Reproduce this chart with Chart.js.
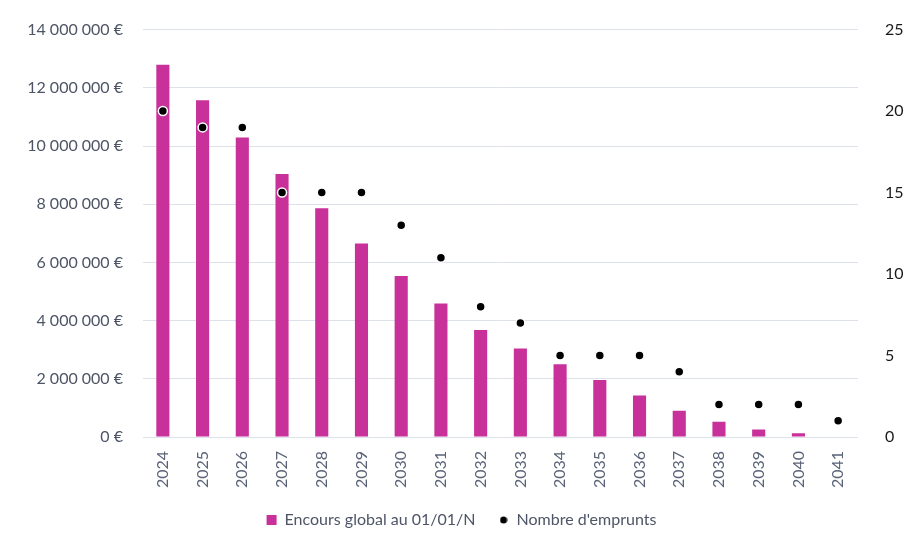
<!DOCTYPE html>
<html>
<head>
<meta charset="utf-8">
<script src="https://cdn.jsdelivr.net/npm/chart.js@4"></script>
<style>
	html, body { margin: 0; padding: 0; background: #fff; }
	#wrap { width: 923px; height: 533px; }
</style>
</head>
<body>
<div id="wrap"><canvas id="chart" width="923" height="533"></canvas></div>
<script>
// données
var annees = ['2024', '2025', '2026', '2027', '2028', '2029', '2030', '2031', '2032',
	'2033', '2034', '2035', '2036', '2037', '2038', '2039', '2040', '2041']
var encours = [12790000, 11570000, 10290000, 9040000, 7860000, 6650000, 5530000, 4590000, 3680000,
	3040000, 2500000, 1960000, 1430000, 900000, 520000, 260000, 130000, 0]
var nb_emprunts = [20, 19, 19, 15, 15, 15, 13, 11, 8, 7, 5, 5, 5, 4, 2, 2, 2, 1]

var label_encours = 'Encours global au 01/01/N'
var label_emprunts = "Nombre d'emprunts"

var font = 'Lato'
var bar_color = '#c8309a'
var grid_color = '#dde1ea'

function euros(v) {
	return String(Math.round(v)).replace(/\B(?=(\d{3})+(?!\d))/g, ' ') + ' €'
}

// petit point noir pour la légende
var dot = document.createElement('canvas')
dot.width = 8
dot.height = 8
var dctx = dot.getContext('2d')
dctx.fillStyle = '#000'
dctx.beginPath()
dctx.arc(4, 4, 3.5, 0, Math.PI * 2)
dctx.fill()

new Chart(document.getElementById('chart'), {
	data: {
		labels: annees,
		datasets: [
			{
				type: 'line',
				label: label_emprunts,
				data: nb_emprunts,
				yAxisID: 'y1',
				showLine: false,
				pointRadius: 4.5,
				pointHoverRadius: 4.5,
				pointBackgroundColor: '#000',
				pointBorderColor: '#fff',
				pointBorderWidth: 1.5,
				order: 0
			},
			{
				type: 'bar',
				label: label_encours,
				data: encours,
				yAxisID: 'y',
				backgroundColor: bar_color,
				barPercentage: 0.33,
				categoryPercentage: 1,
				order: 1
			}
		]
	},
	options: {
		responsive: false,
		animation: false,
		layout: { padding: { top: 0, left: 0, right: 0, bottom: 0 } },
		plugins: {
			tooltip: { enabled: false },
			legend: {
				position: 'bottom',
				reverse: true,
				maxHeight: 44,
				labels: {
					font: { family: font, size: 16 },
					color: '#4d5566',
					usePointStyle: true,
					boxWidth: 10,
					boxHeight: 10,
					padding: 23,
					generateLabels: function(chart) {
						return chart.data.datasets.map(function(ds, i) {
							var is_bar = ds.type === 'bar'
							return {
								text: ds.label,
								datasetIndex: i,
								fillStyle: is_bar ? bar_color : '#000',
								strokeStyle: is_bar ? bar_color : '#000',
								lineWidth: 0,
								pointStyle: is_bar ? 'rect' : dot,
								fontColor: '#4d5566'
							}
						})
					}
				}
			}
		},
		scales: {
			x: {
				grid: { display: false },
				border: { display: false },
				ticks: {
					font: { family: font, size: 16 },
					color: '#5a6377',
					maxRotation: 90,
					minRotation: 90,
					padding: 6
				},
				afterFit: function(scale) { scale.height = 52 }
			},
			y: {
				position: 'left',
				min: 0,
				max: 14000000,
				ticks: {
					stepSize: 2000000,
					font: { family: font, size: 16 },
					color: '#4d5566',
					padding: 20,
					callback: function(v) { return euros(v) }
				},
				grid: { color: grid_color, lineWidth: 1, drawTicks: false },
				border: { display: false },
				afterFit: function(scale) { scale.width = 143 }
			},
			y1: {
				position: 'right',
				min: 0,
				max: 25,
				ticks: {
					stepSize: 5,
					font: { family: font, size: 16 },
					color: '#1a1a1a',
					padding: 19
				},
				grid: { display: false },
				border: { display: false },
				afterFit: function(scale) { scale.width = 65 }
			}
		}
	}
})
</script>
</body>
</html>
